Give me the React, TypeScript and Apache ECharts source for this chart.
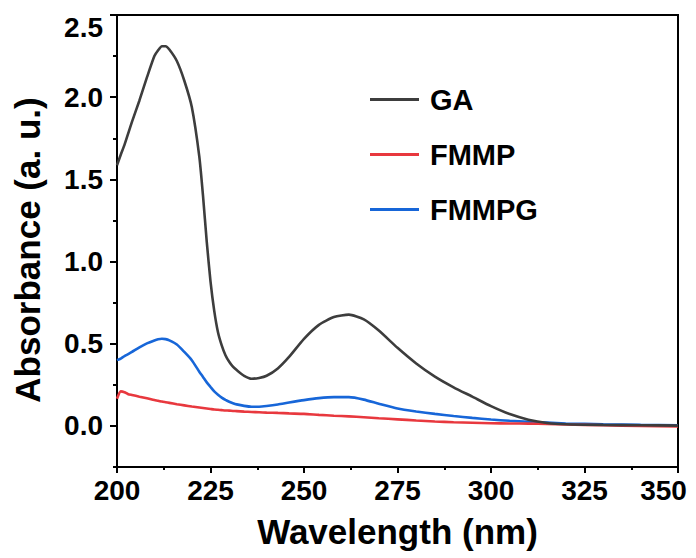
import React, { useEffect, useRef } from "react";
import * as echarts from "echarts";

const wavelengths = [200, 201, 202, 203, 204, 206, 208, 210, 211, 212, 213, 214, 216, 218, 220, 222, 223, 224, 225, 226, 227, 228, 229, 230, 231, 232, 234, 236, 238, 240, 243, 246, 250, 254, 258, 262, 266, 270, 275, 280, 285, 290, 295, 300, 305, 310, 315, 320, 330, 340, 350];

const gaValues = [1.586, 1.65, 1.71, 1.78, 1.85, 1.98, 2.12, 2.25, 2.285, 2.31, 2.31, 2.29, 2.22, 2.1, 1.94, 1.64, 1.4, 1.12, 0.88, 0.7, 0.57, 0.49, 0.43, 0.39, 0.36, 0.34, 0.305, 0.287, 0.292, 0.305, 0.35, 0.42, 0.53, 0.615, 0.662, 0.677, 0.648, 0.58, 0.475, 0.38, 0.3, 0.235, 0.178, 0.12, 0.072, 0.038, 0.018, 0.01, 0.006, 0.004, 0.002];

const fmmpValues = [0.165, 0.21, 0.205, 0.193, 0.188, 0.178, 0.168, 0.157, 0.153, 0.148, 0.144, 0.14, 0.132, 0.125, 0.118, 0.112, 0.109, 0.106, 0.103, 0.1, 0.098, 0.096, 0.094, 0.093, 0.091, 0.09, 0.087, 0.085, 0.083, 0.081, 0.079, 0.076, 0.073, 0.067, 0.062, 0.058, 0.053, 0.047, 0.04, 0.033, 0.027, 0.022, 0.019, 0.016, 0.015, 0.014, 0.012, 0.009, 0.004, 0.0, -0.003];

const fmmpgValues = [0.4, 0.41, 0.425, 0.437, 0.45, 0.478, 0.502, 0.52, 0.527, 0.53, 0.528, 0.52, 0.495, 0.45, 0.4, 0.33, 0.298, 0.265, 0.237, 0.21, 0.19, 0.172, 0.158, 0.147, 0.138, 0.131, 0.122, 0.117, 0.117, 0.121, 0.13, 0.142, 0.157, 0.169, 0.175, 0.175, 0.16, 0.135, 0.106, 0.088, 0.073, 0.06, 0.049, 0.039, 0.031, 0.025, 0.02, 0.015, 0.01, 0.006, 0.004];

const seriesNames = ["GA", "FMMP", "FMMPG"];
const seriesColors = ["#3d3d3d", "#e8383e", "#1766d8"];
const yMajorTicks = [0, 0.5, 1.0, 1.5, 2.0, 2.5];
const yMinorTicks = [-0.25, 0.25, 0.75, 1.25, 1.75, 2.25];

const FONT = "'Liberation Sans', Arial, sans-serif";

export default function App() {
  const ref = useRef<HTMLDivElement>(null);
  useEffect(() => {
    if (!ref.current) return;
    const chart = echarts.init(ref.current, null, { renderer: "svg" });
    const allValues = [gaValues, fmmpValues, fmmpgValues];
    const labelStyle = { fontSize: 28, fontWeight: "bold" as const, color: "#000", fontFamily: FONT };
    chart.setOption({
      animation: false,
      grid: {
        left: 117,
        right: 18,
        top: 15,
        bottom: 91,
        show: true,
        borderColor: "#000",
        borderWidth: 2,
        containLabel: false,
        outerBoundsMode: "none",
      },
      legend: {
        data: seriesNames,
        orient: "vertical",
        left: 370,
        top: 85,
        padding: 0,
        icon: "rect",
        itemWidth: 49,
        itemHeight: 3,
        itemGap: 26,
        textStyle: { ...labelStyle, fontSize: 29, padding: [0, 0, 0, 6] },
      },
      xAxis: {
        type: "value",
        min: 200,
        max: 350,
        interval: 25,
        name: "Wavelength (nm)",
        nameLocation: "middle",
        nameGap: 47,
        nameTextStyle: { fontSize: 35, fontWeight: "bold", color: "#000", fontFamily: FONT },
        axisLine: { onZero: false, lineStyle: { color: "#000", width: 2 } },
        axisTick: { inside: false, length: 6, lineStyle: { color: "#000", width: 2 } },
        minorTick: { show: true, splitNumber: 2, length: 3, lineStyle: { color: "#000", width: 2 } },
        splitLine: { show: false },
        minorSplitLine: { show: false },
        axisLabel: {
          ...labelStyle,
          margin: 9,
          formatter: (v: number) => (v === 350 ? "{end|350}" : String(v)),
          rich: { end: { ...labelStyle, padding: [0, 29, 0, 0] } },
        },
      },
      yAxis: [
        {
          type: "value",
          min: -0.25,
          max: 2.5,
          position: "left",
          name: "Absorbance (a. u.)",
          nameLocation: "middle",
          nameGap: 72,
          nameTextStyle: { fontSize: 35, fontWeight: "bold", color: "#000", fontFamily: FONT, padding: [0, 18, 0, 0] },
          axisLine: { show: true, onZero: false, lineStyle: { color: "#000", width: 2 } },
          axisTick: { show: true, inside: false, length: 7, customValues: yMajorTicks, lineStyle: { color: "#000", width: 2 } },
          splitLine: { show: false },
          axisLabel: {
            ...labelStyle,
            margin: 14,
            customValues: yMajorTicks,
            formatter: (v: number) => (Math.abs(v - 2.5) < 1e-6 ? "{top|2.5}" : v.toFixed(1)),
            rich: { top: { ...labelStyle, padding: [24, 0, 0, 0] } },
          },
        },
        {
          type: "value",
          min: -0.25,
          max: 2.5,
          position: "left",
          axisLine: { show: false },
          axisTick: { show: true, inside: false, length: 4, customValues: yMinorTicks, lineStyle: { color: "#000", width: 2 } },
          axisLabel: { show: false },
          splitLine: { show: false },
        },
      ],
      series: seriesNames.map((name, k) => ({
        name,
        type: "line",
        yAxisIndex: 0,
        symbol: "none",
        showSymbol: false,
        smooth: 0.2,
        color: seriesColors[k],
        lineStyle: { color: seriesColors[k], width: 2.6 },
        data: wavelengths.map((w, i) => [w, allValues[k][i]]),
        z: 3 - k,
      })),
    });
    return () => chart.dispose();
  }, []);
  return <div ref={ref} style={{ position: "fixed", left: 0, top: 0, width: 696, height: 558, background: "#fff" }} />;
}
